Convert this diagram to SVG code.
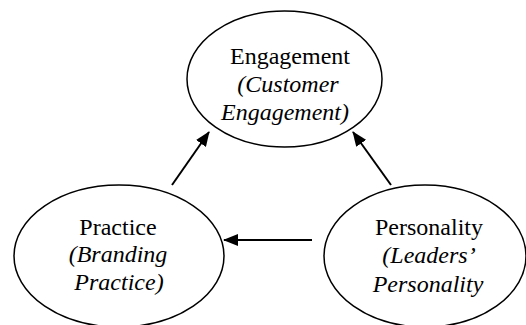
<svg xmlns="http://www.w3.org/2000/svg" width="526" height="325" viewBox="0 0 526 325">
<defs>
<style>
.node ellipse{fill:#fff;stroke:#000;stroke-width:1.5}
.conn line{stroke:#000;stroke-width:2}
</style>
<marker id="arr" markerUnits="userSpaceOnUse" markerWidth="15" markerHeight="12" refX="14" refY="6" orient="auto">
<path d="M0,0 L15,6 L0,12 Z" fill="#000"/>
</marker>
</defs>
<rect width="526" height="325" fill="#fff"/>
<g id="engagement" class="node" font-family="Liberation Serif, Times New Roman, serif" font-size="24" text-anchor="middle" fill="#000">
<ellipse cx="284.5" cy="79" rx="97.5" ry="68"/>
<text x="290" y="64">Engagement</text>
<text font-style="italic" x="288" y="92">(Customer</text>
<text font-style="italic" x="285" y="120">Engagement)</text>
</g>
<g id="practice" class="node" font-family="Liberation Serif, Times New Roman, serif" font-size="24" text-anchor="middle" fill="#000">
<ellipse cx="119" cy="256" rx="105" ry="71"/>
<text x="118" y="235">Practice</text>
<text font-style="italic" x="118" y="262">(Branding</text>
<text font-style="italic" x="119" y="290">Practice)</text>
</g>
<g id="personality" class="node" font-family="Liberation Serif, Times New Roman, serif" font-size="24" text-anchor="middle" fill="#000">
<ellipse cx="425" cy="256" rx="101" ry="71"/>
<text x="429" y="235">Personality</text>
<text font-style="italic" x="429" y="263">(Leaders’</text>
<text font-style="italic" x="428" y="292">Personality</text>
</g>
<g id="connectors" class="conn">
<line x1="172" y1="185" x2="209" y2="132" marker-end="url(#arr)"/>
<line x1="391" y1="185" x2="353" y2="132" marker-end="url(#arr)"/>
<line x1="312" y1="240" x2="224" y2="240" marker-end="url(#arr)"/>
</g>
</svg>
